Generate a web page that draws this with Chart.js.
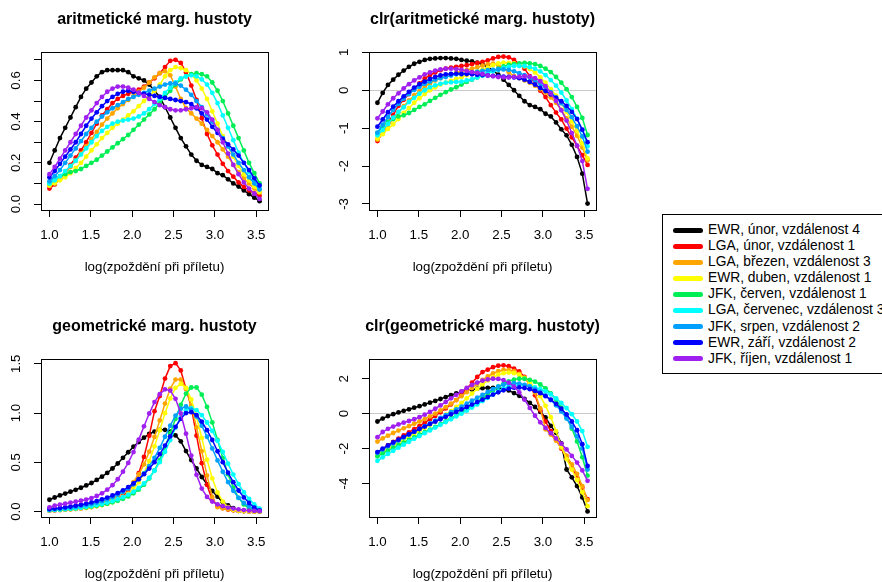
<!DOCTYPE html>
<html>
<head>
<meta charset="utf-8">
<script src="https://cdn.jsdelivr.net/npm/chart.js@4/dist/chart.umd.min.js"></script>
<style>
body{margin:0;width:882px;height:582px;overflow:hidden;background:#fff;position:relative;font-family:"Liberation Sans",Arial,sans-serif}
canvas{position:absolute}
#legenda{position:absolute;left:662px;top:214px;width:260px;height:160px;border:1px solid #000;box-sizing:border-box}
.radek{position:absolute;left:0;height:16px;line-height:16px;font-size:13.8px;white-space:nowrap;color:#000}
.cara{position:absolute;left:10px;top:5.5px;width:30px;height:5px;border-radius:3px}
.text{position:absolute;left:45px;top:0}
</style>
</head>
<body>
<canvas id="g1" width="300" height="290" style="left:0;top:0"></canvas>
<canvas id="g2" width="300" height="290" style="left:320px;top:0"></canvas>
<canvas id="g3" width="300" height="282" style="left:0;top:300px"></canvas>
<canvas id="g4" width="300" height="282" style="left:320px;top:300px"></canvas>
<div id="legenda"></div>
<script>
// log(zpozdeni pri priletu)
const xs = [1.000,1.0635,1.127,1.1905,1.254,1.3175,1.381,1.4445,1.508,1.5715,1.635,1.6985,1.762,1.8255,1.889,1.9525,2.016,2.0795,2.143,2.2065,2.27,2.3335,2.397,2.4605,2.524,2.5875,2.651,2.7145,2.778,2.8415,2.905,2.9685,3.032,3.0955,3.159,3.2225,3.286,3.3495,3.413,3.4765,3.54];

const nazvy = ['EWR, únor, vzdálenost 4','LGA, únor, vzdálenost 1','LGA, březen, vzdálenost 3','EWR, duben, vzdálenost 1','JFK, červen, vzdálenost 1','LGA, červenec, vzdálenost 3','JFK, srpen, vzdálenost 2','EWR, září, vzdálenost 2','JFK, říjen, vzdálenost 1'];
const barvy = ['#000000','#FF0000','#FFA500','#FFFF00','#00EE55','#00FFFF','#00A0FF','#0000FF','#A020F0'];

// aritmeticke marg. hustoty
const arEwrUnor = [0.20,0.26,0.32,0.37,0.42,0.47,0.52,0.56,0.59,0.62,0.64,0.65,0.65,0.65,0.65,0.64,0.62,0.61,0.60,0.58,0.55,0.52,0.47,0.42,0.37,0.32,0.28,0.24,0.21,0.19,0.18,0.17,0.15,0.14,0.12,0.10,0.085,0.066,0.048,0.031,0.014];
const arLgaUnor = [0.075,0.095,0.12,0.15,0.19,0.225,0.26,0.30,0.345,0.39,0.43,0.46,0.49,0.51,0.525,0.535,0.545,0.555,0.57,0.59,0.61,0.635,0.665,0.695,0.70,0.685,0.64,0.575,0.506,0.417,0.34,0.285,0.24,0.195,0.16,0.133,0.105,0.083,0.066,0.052,0.04];
const arLgaBrezen = [0.09,0.105,0.125,0.15,0.18,0.21,0.245,0.28,0.315,0.35,0.385,0.415,0.44,0.465,0.485,0.505,0.525,0.545,0.565,0.59,0.615,0.635,0.645,0.625,0.57,0.51,0.465,0.44,0.415,0.39,0.36,0.33,0.30,0.265,0.23,0.19,0.155,0.125,0.10,0.075,0.055];
const arEwrDuben = [0.09,0.10,0.115,0.13,0.15,0.175,0.20,0.23,0.26,0.29,0.32,0.345,0.37,0.39,0.41,0.43,0.45,0.475,0.50,0.525,0.55,0.58,0.62,0.65,0.665,0.66,0.65,0.63,0.60,0.56,0.51,0.45,0.39,0.33,0.28,0.23,0.185,0.145,0.115,0.085,0.06];
const arJfkCerven = [0.10,0.12,0.135,0.145,0.155,0.16,0.17,0.185,0.20,0.215,0.235,0.255,0.275,0.295,0.315,0.335,0.36,0.385,0.41,0.435,0.46,0.49,0.52,0.55,0.58,0.605,0.62,0.63,0.635,0.63,0.62,0.59,0.55,0.50,0.44,0.38,0.32,0.26,0.20,0.15,0.10];
const arLgaCervenec = [0.10,0.115,0.135,0.16,0.185,0.21,0.24,0.27,0.30,0.33,0.355,0.375,0.39,0.40,0.405,0.41,0.415,0.425,0.44,0.46,0.485,0.51,0.54,0.565,0.59,0.61,0.62,0.625,0.62,0.605,0.58,0.54,0.49,0.43,0.37,0.31,0.25,0.20,0.155,0.115,0.075];
const arJfkSrpen = [0.11,0.135,0.165,0.20,0.235,0.27,0.305,0.34,0.37,0.40,0.425,0.445,0.465,0.48,0.495,0.51,0.52,0.53,0.54,0.55,0.56,0.57,0.58,0.585,0.585,0.575,0.555,0.53,0.50,0.47,0.435,0.40,0.36,0.32,0.28,0.24,0.20,0.165,0.13,0.10,0.07];
const arEwrZari = [0.13,0.16,0.195,0.23,0.265,0.30,0.34,0.38,0.415,0.445,0.475,0.50,0.52,0.535,0.545,0.55,0.545,0.54,0.535,0.53,0.525,0.52,0.515,0.51,0.505,0.50,0.495,0.485,0.465,0.44,0.41,0.375,0.345,0.315,0.29,0.265,0.235,0.20,0.165,0.125,0.09];
const arJfkRijen = [0.145,0.18,0.22,0.26,0.30,0.34,0.38,0.42,0.455,0.49,0.52,0.545,0.56,0.57,0.57,0.565,0.555,0.54,0.525,0.51,0.495,0.48,0.47,0.46,0.455,0.455,0.46,0.465,0.47,0.465,0.445,0.41,0.36,0.30,0.245,0.19,0.145,0.105,0.075,0.05,0.025];

// clr(aritmeticke marg. hustoty)
const clrArEwrUnor = [-0.33,-0.07,0.14,0.28,0.41,0.52,0.62,0.70,0.75,0.80,0.83,0.84,0.85,0.85,0.84,0.83,0.80,0.78,0.76,0.73,0.68,0.62,0.52,0.41,0.28,0.14,0.00,-0.15,-0.29,-0.39,-0.44,-0.50,-0.62,-0.69,-0.85,-1.03,-1.19,-1.44,-1.76,-2.20,-2.99];
const clrArLgaUnor = [-1.34,-1.11,-0.87,-0.65,-0.41,-0.25,-0.10,0.04,0.18,0.31,0.40,0.47,0.53,0.57,0.60,0.62,0.64,0.66,0.69,0.72,0.75,0.79,0.84,0.88,0.89,0.87,0.80,0.69,0.57,0.37,0.17,-0.01,-0.18,-0.39,-0.59,-0.77,-1.01,-1.24,-1.47,-1.71,-1.97];
const clrArLgaBrezen = [-1.30,-1.13,-0.94,-0.76,-0.58,-0.42,-0.27,-0.13,-0.02,0.09,0.18,0.26,0.32,0.37,0.42,0.46,0.50,0.53,0.57,0.61,0.65,0.69,0.70,0.67,0.58,0.47,0.37,0.32,0.26,0.20,0.12,0.03,-0.06,-0.19,-0.33,-0.52,-0.74,-0.96,-1.20,-1.51,-1.85];
const clrArEwrDuben = [-1.27,-1.16,-1.02,-0.90,-0.76,-0.60,-0.47,-0.33,-0.21,-0.10,0.00,0.08,0.15,0.20,0.25,0.30,0.34,0.40,0.45,0.50,0.54,0.59,0.66,0.71,0.73,0.72,0.71,0.68,0.63,0.56,0.47,0.34,0.20,0.03,-0.14,-0.34,-0.57,-0.82,-1.07,-1.40,-1.80];
const clrArJfkCerven = [-1.13,-0.95,-0.83,-0.76,-0.69,-0.66,-0.60,-0.52,-0.44,-0.37,-0.28,-0.20,-0.12,-0.05,0.02,0.08,0.15,0.22,0.28,0.34,0.39,0.46,0.52,0.57,0.63,0.67,0.69,0.71,0.72,0.71,0.69,0.64,0.57,0.48,0.35,0.20,0.03,-0.18,-0.44,-0.73,-1.18];
const clrArLgaCervenec = [-1.19,-1.05,-0.89,-0.72,-0.57,-0.45,-0.31,-0.20,-0.09,0.00,0.08,0.13,0.17,0.20,0.21,0.22,0.23,0.26,0.29,0.34,0.39,0.44,0.50,0.54,0.59,0.62,0.64,0.64,0.64,0.61,0.57,0.50,0.40,0.27,0.12,-0.06,-0.27,-0.50,-0.75,-1.05,-1.48];
const clrArJfkSrpen = [-1.12,-0.91,-0.71,-0.52,-0.36,-0.22,-0.10,0.01,0.09,0.17,0.23,0.28,0.32,0.35,0.39,0.42,0.43,0.45,0.47,0.49,0.51,0.53,0.54,0.55,0.55,0.54,0.50,0.45,0.40,0.33,0.26,0.17,0.07,-0.05,-0.19,-0.34,-0.52,-0.71,-0.95,-1.22,-1.62];
const clrArEwrZari = [-0.96,-0.77,-0.58,-0.43,-0.29,-0.16,-0.04,0.07,0.16,0.23,0.30,0.35,0.39,0.42,0.43,0.44,0.43,0.43,0.42,0.41,0.40,0.39,0.38,0.37,0.36,0.35,0.34,0.32,0.28,0.22,0.15,0.06,-0.02,-0.11,-0.20,-0.29,-0.41,-0.57,-0.76,-1.04,-1.37];
const clrArJfkRijen = [-0.74,-0.56,-0.37,-0.21,-0.08,0.05,0.16,0.26,0.34,0.42,0.47,0.52,0.55,0.57,0.57,0.56,0.54,0.51,0.48,0.46,0.43,0.39,0.37,0.35,0.34,0.34,0.35,0.36,0.37,0.36,0.32,0.24,0.11,-0.08,-0.28,-0.53,-0.80,-1.13,-1.46,-1.87,-2.60];

// geometricke marg. hustoty
const geEwrUnor = [0.120,0.143,0.164,0.183,0.202,0.221,0.242,0.265,0.290,0.321,0.354,0.392,0.437,0.488,0.545,0.602,0.659,0.706,0.750,0.789,0.812,0.829,0.829,0.812,0.773,0.713,0.614,0.523,0.437,0.351,0.276,0.209,0.151,0.094,0.063,0.034,0.008,0.005,0.003,0.002,0.001];
const geLgaUnor = [0.009,0.012,0.015,0.019,0.023,0.027,0.032,0.039,0.046,0.056,0.068,0.083,0.102,0.127,0.160,0.206,0.278,0.390,0.554,0.770,1.019,1.172,1.349,1.476,1.506,1.432,1.245,1.061,0.770,0.491,0.270,0.115,0.060,0.035,0.021,0.013,0.007,0.004,0.002,0.001,0.001];
const geLgaBrezen = [0.022,0.027,0.031,0.036,0.042,0.047,0.054,0.062,0.070,0.081,0.094,0.110,0.132,0.159,0.194,0.240,0.299,0.376,0.478,0.608,0.757,0.925,1.096,1.248,1.339,1.339,1.248,1.074,0.854,0.614,0.365,0.148,0.045,0.033,0.023,0.016,0.010,0.006,0.003,0.002,0.001];
const geEwrDuben = [0.012,0.014,0.017,0.020,0.023,0.028,0.033,0.039,0.046,0.055,0.066,0.079,0.095,0.116,0.143,0.181,0.229,0.298,0.390,0.511,0.662,0.825,0.998,1.148,1.256,1.295,1.256,1.137,0.959,0.747,0.526,0.336,0.194,0.101,0.045,0.018,0.009,0.005,0.003,0.001,0.001];
const geJfkCerven = [0.015,0.017,0.020,0.024,0.028,0.032,0.038,0.044,0.051,0.059,0.069,0.080,0.094,0.110,0.130,0.154,0.185,0.223,0.273,0.336,0.419,0.522,0.651,0.795,0.942,1.083,1.197,1.259,1.259,1.186,1.062,0.905,0.726,0.543,0.379,0.242,0.139,0.073,0.034,0.014,0.005];
const geLgaCervenec = [0.014,0.017,0.020,0.024,0.029,0.034,0.040,0.048,0.056,0.066,0.077,0.091,0.106,0.125,0.146,0.172,0.202,0.239,0.286,0.343,0.414,0.501,0.606,0.725,0.851,0.959,1.029,1.050,1.029,0.979,0.904,0.818,0.718,0.606,0.486,0.375,0.278,0.196,0.129,0.074,0.030];
const geJfkSrpen = [0.019,0.024,0.028,0.034,0.040,0.047,0.056,0.065,0.077,0.090,0.106,0.124,0.146,0.171,0.201,0.235,0.276,0.327,0.388,0.460,0.545,0.646,0.759,0.872,0.974,1.044,1.066,1.034,0.964,0.872,0.759,0.640,0.519,0.404,0.299,0.211,0.140,0.087,0.051,0.025,0.008];
const geEwrZari = [0.025,0.030,0.036,0.043,0.051,0.060,0.069,0.080,0.093,0.107,0.124,0.142,0.164,0.188,0.216,0.249,0.286,0.329,0.379,0.436,0.501,0.582,0.670,0.763,0.860,0.941,0.999,1.009,0.979,0.913,0.826,0.726,0.612,0.501,0.394,0.298,0.214,0.144,0.087,0.039,0.011];
const geJfkRijen = [0.043,0.059,0.070,0.080,0.090,0.100,0.110,0.122,0.137,0.158,0.185,0.222,0.268,0.328,0.405,0.494,0.604,0.730,0.865,0.995,1.111,1.191,1.240,1.228,1.144,0.995,0.790,0.568,0.373,0.233,0.149,0.102,0.074,0.055,0.041,0.030,0.022,0.015,0.010,0.007,0.004];

// clr(geometricke marg. hustoty)
const clrGeEwrUnor = [-0.45,-0.28,-0.14,-0.03,0.07,0.16,0.25,0.34,0.43,0.53,0.63,0.73,0.84,0.95,1.06,1.16,1.25,1.32,1.38,1.43,1.46,1.48,1.48,1.46,1.41,1.33,1.18,1.02,0.84,0.62,0.38,0.10,-0.22,-0.70,-1.10,-1.70,-3.20,-3.65,-4.15,-4.80,-5.60];
const clrGeLgaUnor = [-2.30,-2.05,-1.82,-1.62,-1.43,-1.25,-1.07,-0.89,-0.71,-0.52,-0.33,-0.13,0.08,0.30,0.53,0.78,1.08,1.42,1.77,2.10,2.38,2.52,2.66,2.75,2.77,2.72,2.58,2.42,2.10,1.65,1.05,0.20,-0.45,-1.00,-1.50,-2.00,-2.55,-3.10,-3.65,-4.25,-4.90];
const clrGeLgaBrezen = [-1.60,-1.42,-1.26,-1.11,-0.97,-0.84,-0.71,-0.58,-0.45,-0.31,-0.16,0.00,0.18,0.37,0.57,0.78,1.00,1.23,1.47,1.71,1.93,2.13,2.30,2.43,2.50,2.50,2.43,2.28,2.05,1.72,1.20,0.30,-0.90,-1.20,-1.55,-1.95,-2.40,-2.90,-3.45,-4.15,-4.95];
const clrGeEwrDuben = [-2.35,-2.17,-2.00,-1.83,-1.66,-1.49,-1.32,-1.15,-0.98,-0.81,-0.63,-0.45,-0.26,-0.06,0.15,0.38,0.62,0.88,1.15,1.42,1.68,1.90,2.09,2.23,2.32,2.35,2.32,2.22,2.05,1.80,1.45,1.00,0.45,-0.20,-1.00,-1.90,-2.60,-3.20,-3.80,-4.50,-5.30];
const clrGeJfkCerven = [-2.45,-2.28,-2.12,-1.96,-1.81,-1.66,-1.51,-1.36,-1.21,-1.06,-0.91,-0.76,-0.60,-0.44,-0.27,-0.10,0.08,0.27,0.47,0.68,0.90,1.12,1.34,1.54,1.71,1.85,1.95,2.00,2.00,1.94,1.83,1.67,1.45,1.16,0.80,0.35,-0.20,-0.85,-1.60,-2.50,-3.55];
const clrGeLgaCervenec = [-2.70,-2.50,-2.31,-2.13,-1.95,-1.78,-1.61,-1.44,-1.28,-1.12,-0.96,-0.80,-0.64,-0.48,-0.32,-0.16,0.00,0.17,0.35,0.53,0.72,0.91,1.10,1.28,1.44,1.56,1.63,1.65,1.63,1.58,1.50,1.40,1.27,1.10,0.88,0.62,0.32,-0.03,-0.45,-1.00,-1.90];
const clrGeJfkSrpen = [-2.25,-2.06,-1.88,-1.71,-1.54,-1.37,-1.20,-1.04,-0.88,-0.72,-0.56,-0.40,-0.24,-0.08,0.08,0.24,0.40,0.57,0.74,0.91,1.08,1.25,1.41,1.55,1.66,1.73,1.75,1.72,1.65,1.55,1.41,1.24,1.03,0.78,0.48,0.13,-0.28,-0.75,-1.30,-2.00,-3.20];
const clrGeEwrZari = [-2.20,-2.00,-1.82,-1.65,-1.49,-1.33,-1.18,-1.03,-0.88,-0.74,-0.60,-0.46,-0.32,-0.18,-0.04,0.10,0.24,0.38,0.52,0.66,0.80,0.95,1.09,1.22,1.34,1.43,1.49,1.50,1.47,1.40,1.30,1.17,1.00,0.80,0.56,0.28,-0.05,-0.45,-0.95,-1.75,-3.00];
const clrGeJfkRijen = [-1.35,-1.05,-0.87,-0.74,-0.62,-0.52,-0.42,-0.32,-0.20,-0.06,0.10,0.28,0.47,0.67,0.88,1.08,1.28,1.47,1.64,1.78,1.89,1.96,2.00,1.99,1.92,1.78,1.55,1.22,0.80,0.33,-0.12,-0.50,-0.82,-1.12,-1.42,-1.72,-2.05,-2.42,-2.80,-3.25,-3.85];

// tick labels
const xTicks = [1.0,1.5,2.0,2.5,3.0,3.5];
const yTicks1 = [0,0.1,0.2,0.3,0.4,0.5,0.6,0.7];
const yLabels1 = [[0,'0.0'],[0.2,'0.2'],[0.4,'0.4'],[0.6,'0.6']];
const yTicks2 = [-3,-2,-1,0,1];
const yLabels2 = [[-3,'-3'],[-2,'-2'],[-1,'-1'],[0,'0'],[1,'1']];
const yTicks3 = [0,0.5,1,1.5];
const yLabels3 = [[0,'0.0'],[0.5,'0.5'],[1,'1.0'],[1.5,'1.5']];
const yTicks4 = [-4,-2,0,2];
const yLabels4 = [[-4,'-4'],[-2,'-2'],[0,'0'],[2,'2']];

const popisX = 'log(zpoždění při příletu)';
const pismo = '"Liberation Sans", Arial, Helvetica, sans-serif';

// ramecek, nadpis, popisky osy y (otocene jako v R)
const ramecek = {
  id: 'ramecek',
  afterDraw(chart, args, o) {
    const ctx = chart.ctx;
    const a = chart.chartArea;
    const sy = chart.scales.y;
    ctx.save();
    ctx.strokeStyle = '#000';
    ctx.lineWidth = 1;
    ctx.strokeRect(a.left + 0.5, a.top + 0.5, a.right - a.left, a.bottom - a.top);
    ctx.fillStyle = '#000';
    ctx.textAlign = 'center';
    ctx.textBaseline = 'middle';
    ctx.font = '13.3px ' + pismo;
    o.popisky.forEach(p => {
      ctx.save();
      ctx.translate(a.left - 25, sy.getPixelForValue(p[0]));
      ctx.rotate(-Math.PI / 2);
      ctx.fillText(p[1], 0, 0);
      ctx.restore();
    });
    const cx = (a.left + a.right) / 2;
    ctx.fillText(popisX, cx, a.bottom + 57);
    ctx.font = 'bold 16px ' + pismo;
    ctx.fillText(o.nadpis, cx, a.top - 32);
    ctx.restore();
  }
};

function graf(id, nadpis, rady, yMin, yMax, yTicks, yLabels, nula, L, R, T, B) {
  const cv = document.getElementById(id);
  const W = cv.width, H = cv.height;
  const datasets = rady.map((r, i) => ({
    label: nazvy[i],
    data: xs.map((x, j) => ({x: x, y: r[j]})),
    borderColor: barvy[i],
    backgroundColor: barvy[i],
    pointBackgroundColor: barvy[i],
    pointBorderWidth: 0,
    pointRadius: 2.4,
    borderWidth: 1.5,
    tension: 0,
    order: rady.length - i
  }));
  return new Chart(cv, {
    type: 'line',
    data: {datasets: datasets},
    plugins: [ramecek],
    options: {
      responsive: false,
      animation: false,
      devicePixelRatio: 1,
      events: [],
      layout: {padding: {left: 0, right: W - R, top: T, bottom: 0}},
      plugins: {
        legend: {display: false},
        tooltip: {enabled: false},
        ramecek: {nadpis: nadpis, popisky: yLabels}
      },
      scales: {
        x: {
          type: 'linear',
          min: 0.898, max: 3.642,
          afterBuildTicks: s => { s.ticks = xTicks.map(v => ({value: v})); },
          afterFit: s => { s.height = H - B; },
          border: {display: false},
          grid: {drawOnChartArea: false, drawTicks: true, tickLength: 7, tickColor: '#000', lineWidth: 1},
          ticks: {color: '#000', padding: 10, font: {family: pismo, size: 13.3}, maxRotation: 0, callback: v => v.toFixed(1)}
        },
        y: {
          type: 'linear',
          min: yMin, max: yMax,
          afterBuildTicks: s => { s.ticks = yTicks.map(v => ({value: v})); },
          afterFit: s => { s.width = L; },
          border: {display: false},
          grid: {
            drawOnChartArea: nula,
            drawTicks: true, tickLength: 7, tickColor: '#000', lineWidth: 1,
            color: c => (c.tick && c.tick.value === 0) ? '#c8c8c8' : 'rgba(0,0,0,0)'
          },
          ticks: {display: false}
        }
      }
    }
  });
}

graf('g1', 'aritmetické marg. hustoty',
  [arEwrUnor, arLgaUnor, arLgaBrezen, arEwrDuben, arJfkCerven, arLgaCervenec, arJfkSrpen, arEwrZari, arJfkRijen],
  -0.029, 0.738, yTicks1, yLabels1, false, 41, 268, 52, 210);
graf('g2', 'clr(aritmetické marg. hustoty)',
  [clrArEwrUnor, clrArLgaUnor, clrArLgaBrezen, clrArEwrDuben, clrArJfkCerven, clrArLgaCervenec, clrArJfkSrpen, clrArEwrZari, clrArJfkRijen],
  -3.16, 1.01, yTicks2, yLabels2, true, 49, 276, 52, 210);
graf('g3', 'geometrické marg. hustoty',
  [geEwrUnor, geLgaUnor, geLgaBrezen, geEwrDuben, geJfkCerven, geLgaCervenec, geJfkSrpen, geEwrZari, geJfkRijen],
  -0.055, 1.548, yTicks3, yLabels3, false, 41, 268, 59, 217);
graf('g4', 'clr(geometrické marg. hustoty)',
  [clrGeEwrUnor, clrGeLgaUnor, clrGeLgaBrezen, clrGeEwrDuben, clrGeJfkCerven, clrGeLgaCervenec, clrGeJfkSrpen, clrGeEwrZari, clrGeJfkRijen],
  -5.92, 3.13, yTicks4, yLabels4, true, 49, 276, 59, 217);

// legenda
const leg = document.getElementById('legenda');
nazvy.forEach((n, i) => {
  const r = document.createElement('div');
  r.className = 'radek';
  r.style.top = (7 + i * 16.09) + 'px';
  const c = document.createElement('span');
  c.className = 'cara';
  c.style.background = barvy[i];
  const t = document.createElement('span');
  t.className = 'text';
  t.textContent = n;
  r.appendChild(c);
  r.appendChild(t);
  leg.appendChild(r);
});
</script>
</body>
</html>
